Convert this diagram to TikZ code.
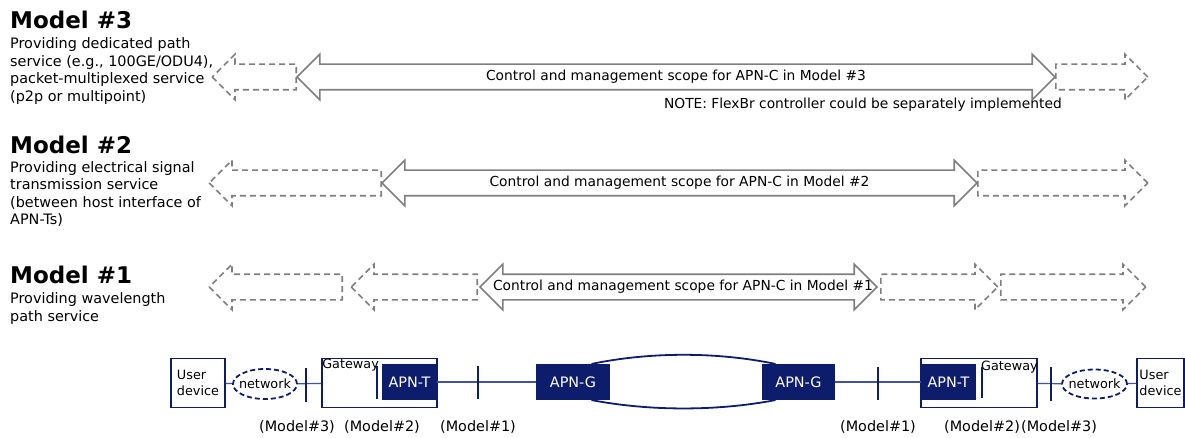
\documentclass[tikz,border=0pt]{standalone}
\usepackage{fontspec}
\setmainfont{DejaVu Sans}
\usetikzlibrary{positioning,shapes.geometric,shapes.arrows,backgrounds}
\definecolor{ScopeGray}{HTML}{7F7F7F}
\definecolor{DeepNavy}{HTML}{0E1C6C}
\definecolor{LinkNavy}{HTML}{4453A0}

\newcommand{\titlesize}{\fontsize{23}{26}\selectfont\bfseries}
\newcommand{\descsize}{\fontsize{14.4}{17.5}\selectfont}
\newcommand{\scopesize}{\fontsize{13.8}{16}\selectfont}
\newcommand{\boxsize}{\fontsize{12.8}{15.5}\selectfont}

\begin{document}
\begin{tikzpicture}[x=1pt, y=-1pt,
  scopearrow/.style={double arrow, draw=ScopeGray, line width=1.6pt, double arrow head extend=10pt, inner xsep=0pt, inner ysep=12pt},
  extarrow/.style={single arrow, draw=ScopeGray, line width=1.6pt, dash pattern=on 6pt off 4pt, single arrow head extend=10pt, inner xsep=0pt, inner ysep=12pt},
  modeltitle/.style={anchor=base west, inner sep=0pt, font=\titlesize},
  modeldesc/.style={anchor=north west, inner sep=0pt, align=left, font=\descsize},
  devbox/.style={draw=DeepNavy, line width=1.6pt, minimum height=49pt, align=left, inner sep=2pt, font=\boxsize},
  netell/.style={ellipse, draw=DeepNavy, line width=1.8pt, dash pattern=on 5pt off 3pt, minimum width=64pt, minimum height=30pt, inner sep=0pt},
  gwbox/.style={draw=DeepNavy, line width=1.8pt, minimum width=115pt, minimum height=49pt},
  apnbox/.style={fill=DeepNavy, text=white, minimum height=36pt, inner sep=0pt, font=\descsize},
  cutbar/.style={fill=DeepNavy, minimum width=2.6pt, minimum height=34pt, inner sep=0pt},
  link/.style={draw=LinkNavy, line width=1.2pt},
  tag/.style={inner sep=0pt, font=\descsize}]
  \useasboundingbox (0,0) rectangle (1185,438);

  % Model #3
  \node[modeltitle] (t3) at (10,28.5) {Model \#3};
  \node[modeldesc] (d3) at (10,37.4) {Providing dedicated path\\service (e.g., 100GE/ODU4),\\packet-multiplexed service\\(p2p or multipoint)};
  \node[extarrow, shape border rotate=180, minimum height=84pt, anchor=tail] (x3l) at (297,77) {};
  \node[extarrow, minimum height=92pt, anchor=tail] (x3r) at (1055,77) {};
  \node[scopearrow, minimum height=758pt] (s3) at (676,77) {};
  \node[font=\scopesize] at (s3) {Control and management scope for APN-C in Model \#3};
  \node[font=\scopesize, anchor=east, inner sep=0pt] (note) at (1062,105) {NOTE: FlexBr controller could be separately implemented};

  % Model #2
  \node[modeltitle] (t2) at (10,153.3) {Model \#2};
  \node[modeldesc] (d2) at (10,161.1) {Providing electrical signal\\transmission service\\(between host interface of\\APN-Ts)};
  \node[extarrow, shape border rotate=180, minimum height=172pt, anchor=tail] (x2l) at (382,183) {};
  \node[extarrow, minimum height=170pt, anchor=tail] (x2r) at (977,183) {};
  \node[scopearrow, minimum height=595pt] (s2) at (679.5,183) {};
  \node[font=\scopesize] at (s2) {Control and management scope for APN-C in Model \#2};

  % Model #1
  \node[modeltitle] (t1) at (10,283.3) {Model \#1};
  \node[modeldesc] (d1) at (10,292.4) {Providing wavelength\\path service};
  \node[extarrow, shape border rotate=180, minimum height=133pt, anchor=tail] (x1a) at (343,287) {};
  \node[extarrow, shape border rotate=180, minimum height=126pt, anchor=tail] (x1b) at (478,287) {};
  \node[extarrow, minimum height=117pt, anchor=tail] (x1c) at (880,287) {};
  \node[extarrow, minimum height=145pt, anchor=tail] (x1d) at (1000,287) {};
  \node[scopearrow, minimum height=397pt] (s1) at (678.5,287) {};
  \node[font=\scopesize] at (683,287) {Control and management scope for APN-C in Model \#1};

  % reference chain
  \node[devbox, minimum width=54pt] (ud1) at (198,383) {User\\device};
  \node[netell] (nw1) at (265,384) {};
  \node[font=\boxsize] at (nw1) {network};
  \node[gwbox] (gw1) at (379.5,383) {};
  \node[font=\boxsize, anchor=north west, inner sep=1pt] at (gw1.north west) {Gateway};
  \node[apnbox, minimum width=55pt] (apt1) at (409.5,382) {APN-T};
  \node[apnbox, minimum width=74pt] (apg1) at (573,382) {APN-G};
  \node[apnbox, minimum width=73pt] (apg2) at (798.5,382) {APN-G};
  \node[apnbox, minimum width=55pt] (apt2) at (948.5,382) {APN-T};
  \node[gwbox, minimum width=116pt] (gw2) at (979,383) {};
  \node[font=\boxsize, anchor=north west, inner sep=1pt] at (980,360) {Gateway};
  \node[netell, minimum width=65pt, minimum height=29pt] (nw2) at (1094.5,384) {};
  \node[font=\boxsize] at (nw2) {network};
  \node[devbox, minimum width=47pt] (ud2) at (1160.5,383) {User\\device};

  \begin{scope}[on background layer]
    \draw[DeepNavy, line width=1.8pt] ([xshift=-18pt]apg1.north east) .. controls +(58,-12) and +(-58,-12) .. ([xshift=13pt]apg2.north west)
      -- ([xshift=13pt]apg2.south west) .. controls +(-58,11) and +(58,11) .. ([xshift=-18pt]apg1.south east) -- cycle;
  \end{scope}

  \draw[link] (ud1) -- (nw1);
  \draw[link] (nw1) -- (gw1);
  \draw[link] (apt1) -- (apg1);
  \draw[link] (apg2) -- (apt2);
  \draw[link] (gw2) -- (nw2);
  \draw[link] (nw2) -- (ud2);

  \node[cutbar] (b3l) at (306,385) {};
  \node[cutbar, minimum height=33pt] (b2l) at (377,382.5) {};
  \node[cutbar, minimum height=33pt] (b1l) at (478,382.5) {};
  \node[cutbar, minimum height=33pt] (b1r) at (878,383.5) {};
  \node[cutbar, minimum height=31pt] (b2r) at (982,382.5) {};
  \node[cutbar] (b3r) at (1051,383.5) {};

  \node[tag] at (297,427) {(Model\#3)};
  \node[tag] at (382,427) {(Model\#2)};
  \node[tag] at (478,427) {(Model\#1)};
  \node[tag] at (878,427) {(Model\#1)};
  \node[tag] at (982,427) {(Model\#2)};
  \node[tag] at (1059,427) {(Model\#3)};
\end{tikzpicture}
\end{document}
